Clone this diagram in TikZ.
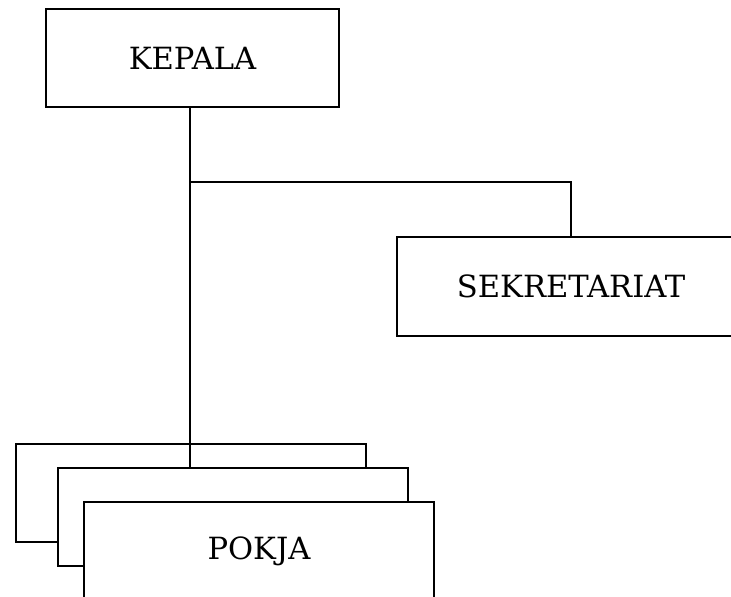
\documentclass[tikz,border=0pt]{standalone}
\usepackage{fontspec}
\setmainfont{DejaVu Serif}
\tikzset{
	unit/.style={draw,line width=.75pt,inner sep=0pt,fill=white,font=\fontsize{15.3}{18}\selectfont},
	garis/.style={line width=.75pt}
}
\begin{document}
\begin{tikzpicture}[x=.5pt,y=-.5pt]
		\useasboundingbox (0,0) rectangle (731,597);
		\node[unit,minimum width=146.5pt,minimum height=49pt] (kepala) at (192.5,58){KEPALA};
		\node[unit,minimum width=174pt,minimum height=49.5pt] (sekre) at (571,286.5){SEKRETARIAT};
		% tumpukan pokja
		\node[unit,minimum width=175pt,minimum height=49pt] (pokjaa) at (191,493){};
		\node[unit,minimum width=175pt,minimum height=49pt] (pokjab) at (233,517){};
		\node[unit,minimum width=175pt,minimum height=49pt] (pokja) at (259,551){POKJA};
		\coordinate (cab) at (190,182);
		\draw[garis] (kepala.south -| cab)--(pokjab.north -| cab);
		\draw[garis] (cab) -| (sekre.north);
	\end{tikzpicture}
\end{document}
